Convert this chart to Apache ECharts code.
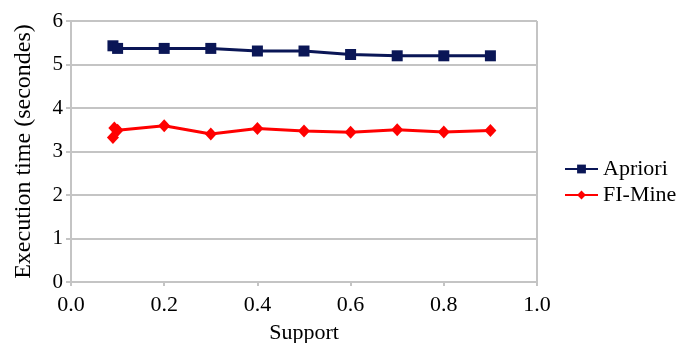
<!DOCTYPE html>
<html>
<head>
<meta charset="utf-8">
<script src="https://cdn.jsdelivr.net/npm/echarts@6/dist/echarts.min.js"></script>
<style>
  html, body { margin: 0; padding: 0; background: #fff; }
  #chart { width: 693px; height: 343px; }
</style>
</head>
<body>
<div id="chart"></div>
<script>
// Support thresholds and execution times (seconds) for each algorithm
const aprioriSupport = [0.09, 0.1, 0.2, 0.3, 0.4, 0.5, 0.6, 0.7, 0.8, 0.9];
const aprioriTime    = [5.43, 5.37, 5.37, 5.37, 5.31, 5.31, 5.23, 5.2, 5.2, 5.2];
const fiMineSupport  = [0.09, 0.093, 0.1, 0.2, 0.3, 0.4, 0.5, 0.6, 0.7, 0.8, 0.9];
const fiMineTime     = [3.32, 3.54, 3.49, 3.59, 3.4, 3.53, 3.47, 3.44, 3.5, 3.45, 3.48];
const xTicks = [0, 0.2, 0.4, 0.6, 0.8, 1.0];
const yTicks = [0, 1, 2, 3, 4, 5, 6];

const pairs = (xs, ys) => xs.map((x, i) => [x, ys[i]]);
const FONT = '"Liberation Serif", "Times New Roman", serif';
const GRID_COLOR = '#c4c4c4';

const chart = echarts.init(document.getElementById('chart'), null, { renderer: 'canvas' });
chart.setOption({
  animation: false,
  backgroundColor: '#ffffff',
  textStyle: { fontFamily: FONT, color: '#000' },
  grid: {
    left: 71, right: 156, top: 21, bottom: 61,
    containLabel: false, outerBoundsMode: 'none', show: false
  },
  legend: {
    orient: 'vertical',
    left: 559,
    top: 153,
    itemWidth: 33,
    itemHeight: 11,
    itemGap: 4,
    textStyle: { fontFamily: FONT, fontSize: 22, color: '#000' },
    data: ['Apriori', 'FI-Mine']
  },
  xAxis: {
    type: 'value',
    min: xTicks[0],
    max: xTicks[xTicks.length - 1],
    interval: 0.2,
    name: 'Support',
    nameLocation: 'middle',
    nameGap: 40,
    nameTextStyle: { fontFamily: FONT, fontSize: 22, color: '#000' },
    axisLine: { show: true, lineStyle: { color: GRID_COLOR, width: 2 } },
    axisTick: { show: true, length: 4, lineStyle: { color: GRID_COLOR, width: 2 } },
    axisLabel: { fontFamily: FONT, fontSize: 22, color: '#000', margin: 12, formatter: v => v.toFixed(1) },
    splitLine: { show: false }
  },
  yAxis: {
    type: 'value',
    min: yTicks[0],
    max: yTicks[yTicks.length - 1],
    interval: 1,
    name: 'Execution time (secondes)',
    nameLocation: 'middle',
    nameGap: 35,
    nameTextStyle: { fontFamily: FONT, fontSize: 24, color: '#000' },
    axisLine: { show: true, lineStyle: { color: GRID_COLOR, width: 2 } },
    axisTick: { show: true, length: 5, lineStyle: { color: GRID_COLOR, width: 2 } },
    axisLabel: { fontFamily: FONT, fontSize: 21, color: '#000', margin: 8 },
    splitLine: { show: true, lineStyle: { color: GRID_COLOR, width: 2 } }
  },
  series: [
    {
      // right border of the plot frame
      type: 'line',
      silent: true,
      symbol: 'none',
      data: [[1, 0], [1, 6]],
      lineStyle: { color: GRID_COLOR, width: 2 },
      legendHoverLink: false,
      tooltip: { show: false }
    },
    {
      name: 'Apriori',
      type: 'line',
      data: pairs(aprioriSupport, aprioriTime),
      symbol: 'rect',
      symbolSize: 11,
      color: '#0a1656',
      itemStyle: { color: '#0a1656' },
      lineStyle: { color: '#0a1656', width: 3 },
      z: 3
    },
    {
      name: 'FI-Mine',
      type: 'line',
      data: pairs(fiMineSupport, fiMineTime),
      symbol: 'diamond',
      symbolSize: [12, 13],
      color: '#ff0000',
      itemStyle: { color: '#ff0000' },
      lineStyle: { color: '#ff0000', width: 3 },
      z: 3
    }
  ]
});
</script>
</body>
</html>
